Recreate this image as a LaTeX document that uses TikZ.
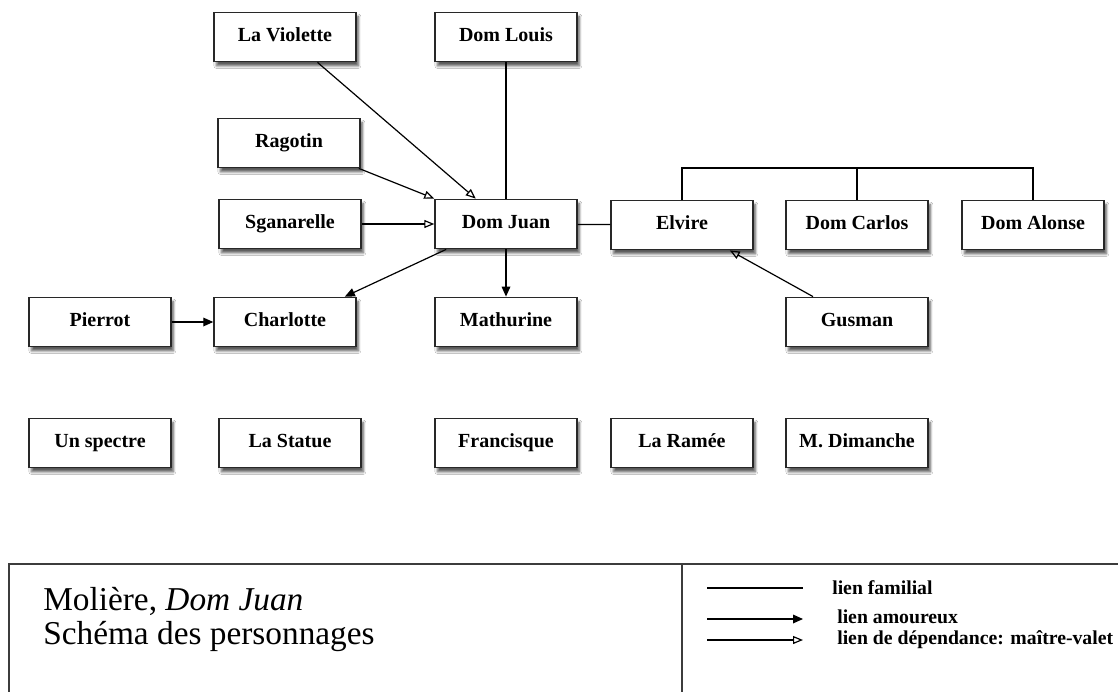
\documentclass[tikz,border=0pt]{standalone}
\usepackage{fontspec}
\setmainfont{Liberation Serif}
\usetikzlibrary{arrows.meta}
\usetikzlibrary{shadows.blur}

\tikzset{
  perso/.style={draw={rgb,255:red,40;green,40;blue,40}, line width=1.1pt, fill=white,
    minimum width=106.5pt, minimum height=37pt, inner sep=0pt,
    text height=10pt, text depth=3pt,
    font=\fontsize{15}{17}\selectfont\bfseries,
    blur shadow={shadow xshift=1.8pt, shadow yshift=-3.2pt, shadow blur steps=6, shadow opacity=65}},
  famille/.style={line width=0.9pt},
  amour/.style={line width=0.9pt, -{Triangle[length=7.5pt,width=6.5pt]}},
  valet/.style={line width=0.9pt, -{Triangle[open,length=7.5pt,width=6pt]}},
  legende/.style={anchor=west, inner sep=0pt, font=\fontsize{14.8}{16}\selectfont\bfseries}
}

\begin{document}
\begin{tikzpicture}[x=0.75pt,y=0.75pt,yscale=-1,xscale=1]
\clip (0,0) rectangle (1118,692);
\fill[white] (0,0) rectangle (1118,692);

%Shape: Rectangle [characters, top]
\node[perso] (violette) at (285,37) {La Violette};
\node[perso] (louis) at (506,37) {Dom Louis};
\node[perso] (ragotin) at (289,143) {Ragotin};
%Shape: Rectangle [characters, middle row]
\node[perso] (sganarelle) at (290,224) {Sganarelle};
\node[perso] (juan) at (506,224) {Dom Juan};
\node[perso] (elvire) at (682,225) {Elvire};
\node[perso] (carlos) at (857,225) {Dom Carlos};
\node[perso] (alonse) at (1033,225) {Dom Alonse};
%Shape: Rectangle [characters, lower row]
\node[perso] (pierrot) at (100,322) {Pierrot};
\node[perso] (charlotte) at (285,322) {Charlotte};
\node[perso] (mathurine) at (506,322) {Mathurine};
\node[perso] (gusman) at (857,322) {Gusman};
%Shape: Rectangle [characters, without links]
\node[perso] (spectre) at (100,443) {Un spectre};
\node[perso] (statue) at (290,443) {La Statue};
\node[perso] (francisque) at (506,443) {Francisque};
\node[perso] (ramee) at (682,443) {La Ram\'ee};
\node[perso] (dimanche) at (857,443) {M. Dimanche};

%Straight Lines [family]
\coordinate (bus) at (857,168);
\draw[famille] (louis) -- (juan);
\draw[famille] (juan) -- (elvire);
\draw[famille] (elvire.north) |- (bus) -| (alonse.north);
\draw[famille] (carlos.north) -- (bus);
%Straight Lines [love]
\draw[amour] (juan.-157) -- (charlotte.23);
\draw[amour] (juan) -- (mathurine);
\draw[amour] (pierrot) -- (charlotte);
%Straight Lines [master-servant]
\draw[valet] (violette.-38) -- (juan.140);
\draw[valet] (ragotin.-20) -- (juan.north west);
\draw[valet] (sganarelle) -- (juan);
\draw[valet] (gusman.150) -- (elvire.-28);

%Shape: Rectangle [legend]
\draw[line width=0.9pt, color={rgb,255:red,60;green,60;blue,60}] (9,564) rectangle (1130,720);
\draw[line width=0.9pt, color={rgb,255:red,60;green,60;blue,60}] (682,564) -- (682,720);

% Text Node
\node[anchor=west, inner sep=0pt, align=left, font=\fontsize{25}{25.5}\selectfont] (titre) at (43,620) {Moli\`ere, \textit{Dom Juan}\\Sch\'ema des personnages};

% legend entries
\coordinate (fa) at (707,588); \coordinate (fb) at (803,588);
\coordinate (aa) at (707,619); \coordinate (ab) at (803,619);
\coordinate (va) at (707,640); \coordinate (vb) at (803,640);
\draw[famille] (fa) -- (fb);
\draw[amour] (aa) -- (ab);
\draw[valet] (va) -- (vb);
\node[legende] (lfam) at (832,588) {lien familial};
\node[legende] (lamour) at (837,617) {lien amoureux};
\node[legende] (lvalet) at (837,640) {lien de d\'ependance: ma\^itre-valet};

\end{tikzpicture}
\end{document}
